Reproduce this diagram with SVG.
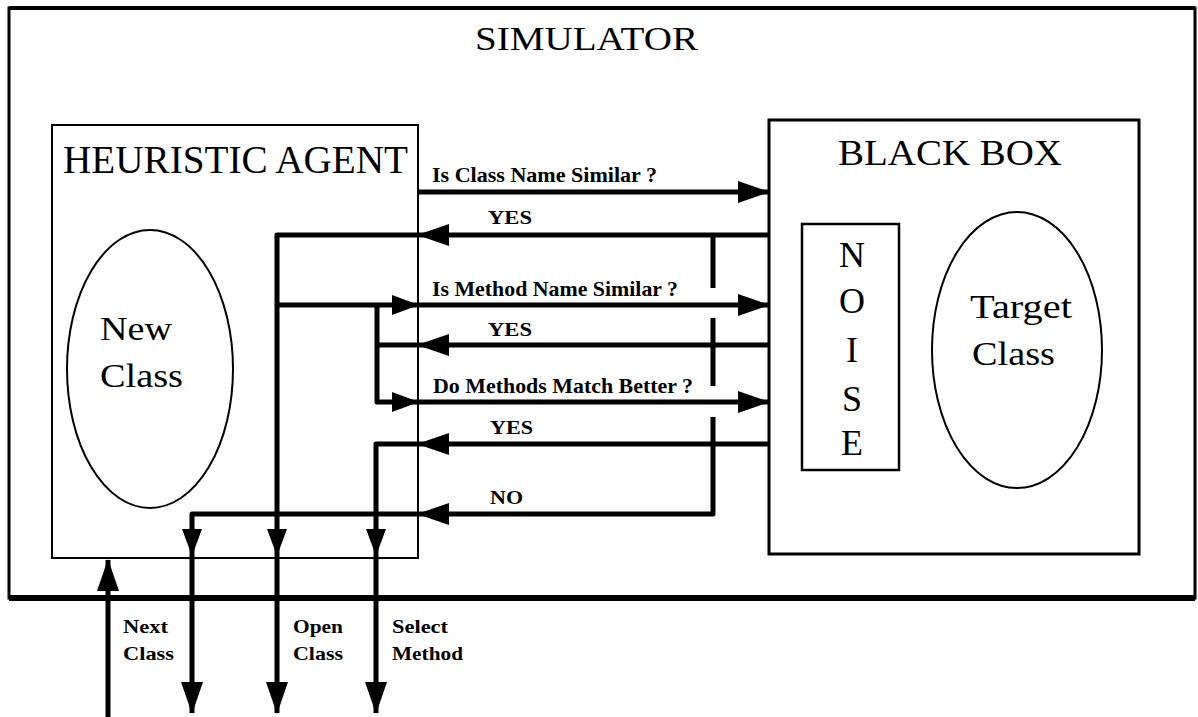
<svg xmlns="http://www.w3.org/2000/svg" width="1198" height="717" viewBox="0 0 1198 717">
<style>
.box{fill:none;stroke:#000}
.big{font-family:"Liberation Serif","Times New Roman",serif;fill:#000}
.lbl{font-family:"Liberation Serif","Times New Roman",serif;font-weight:bold;fill:#000}
.ln{fill:none;stroke:#000;stroke-width:5;stroke-linejoin:round}
</style>
<defs>
<marker id="ah" markerUnits="userSpaceOnUse" markerWidth="32" markerHeight="22" refX="31" refY="11" orient="auto"><path d="M0,0 L32,11 L0,22 Z" fill="#000"/></marker>
<marker id="as" markerUnits="userSpaceOnUse" markerWidth="27" markerHeight="20" refX="26" refY="10" orient="auto"><path d="M0,0 L27,10 L0,20 Z" fill="#000"/></marker>
</defs>
<rect width="1198" height="717" fill="#fff"/>

<g id="simulator">
<rect class="box" x="9" y="8" width="1186" height="590" stroke-width="3"/>
<line x1="9" y1="8" x2="1195" y2="8" stroke="#000" stroke-width="4"/>
<line x1="9" y1="598" x2="1195" y2="598" stroke="#000" stroke-width="6"/>
<text class="big" x="475" y="50" font-size="34" textLength="223" lengthAdjust="spacingAndGlyphs">SIMULATOR</text>
</g>

<g id="heuristic-agent">
<rect class="box" x="52" y="125" width="366" height="433" stroke-width="2"/>
<text class="big" x="63" y="173" font-size="39" textLength="345" lengthAdjust="spacingAndGlyphs">HEURISTIC AGENT</text>
</g>

<g id="new-class">
<ellipse class="box" cx="150" cy="369" rx="83" ry="139" stroke-width="2"/>
<text class="big" x="100" y="340" font-size="34" textLength="72" lengthAdjust="spacingAndGlyphs">New</text>
<text class="big" x="100" y="387" font-size="34" textLength="83" lengthAdjust="spacingAndGlyphs">Class</text>
</g>

<g id="black-box">
<rect class="box" x="769" y="120" width="370" height="434" stroke-width="3"/>
<text class="big" x="838" y="165" font-size="35" textLength="224" lengthAdjust="spacingAndGlyphs">BLACK BOX</text>
</g>

<g id="noise">
<rect class="box" x="802" y="224" width="97" height="246" stroke-width="2.5"/>
<g class="big" font-size="36" text-anchor="middle">
<text x="852" y="267">N</text>
<text x="852" y="313">O</text>
<text x="852" y="362">I</text>
<text x="852" y="411">S</text>
<text x="852" y="455">E</text>
</g>
</g>

<g id="target-class">
<ellipse class="box" cx="1017" cy="350" rx="85" ry="138" stroke-width="2"/>
<text class="big" x="970" y="318" font-size="34" textLength="102" lengthAdjust="spacingAndGlyphs">Target</text>
<text class="big" x="972" y="365" font-size="34" textLength="83" lengthAdjust="spacingAndGlyphs">Class</text>
</g>

<g id="connectors">
<path class="ln" d="M418,192 H769" marker-end="url(#ah)"/>
<path class="ln" d="M769,235 H418" marker-end="url(#ah)"/>
<path class="ln" d="M418,235 H277 V555" marker-end="url(#as)"/>
<path class="ln" d="M277,555 V713" marker-end="url(#ah)"/>
<path class="ln" d="M277,305 H418" marker-end="url(#as)"/>
<path class="ln" d="M418,305 H769" marker-end="url(#ah)"/>
<path class="ln" d="M769,345 H418" marker-end="url(#ah)"/>
<path class="ln" d="M418,345 H377"/>
<path class="ln" d="M377,305 V402 H418" marker-end="url(#as)"/>
<path class="ln" d="M418,402 H769" marker-end="url(#ah)"/>
<path class="ln" d="M769,444 H418" marker-end="url(#ah)"/>
<path class="ln" d="M418,444 H376 V555" marker-end="url(#as)"/>
<path class="ln" d="M376,555 V713" marker-end="url(#ah)"/>
<path class="ln" d="M713,235 V288"/>
<path class="ln" d="M713,318 V386"/>
<path class="ln" d="M713,417 V514 H418" marker-end="url(#ah)"/>
<path class="ln" d="M418,514 H192 V555" marker-end="url(#as)"/>
<path class="ln" d="M192,555 V713" marker-end="url(#ah)"/>
<path class="ln" d="M108,717 V560" marker-end="url(#ah)"/>
</g>

<g id="labels">
<text class="lbl" x="432" y="182" font-size="21" textLength="225" lengthAdjust="spacingAndGlyphs">Is Class Name Similar ?</text>
<text class="lbl" x="488" y="224" font-size="19" textLength="44" lengthAdjust="spacingAndGlyphs">YES</text>
<text class="lbl" x="432" y="296" font-size="21" textLength="246" lengthAdjust="spacingAndGlyphs">Is Method Name Similar ?</text>
<text class="lbl" x="488" y="336" font-size="19" textLength="44" lengthAdjust="spacingAndGlyphs">YES</text>
<text class="lbl" x="433" y="393" font-size="21" textLength="260" lengthAdjust="spacingAndGlyphs">Do Methods Match Better ?</text>
<text class="lbl" x="490" y="434" font-size="19" textLength="43" lengthAdjust="spacingAndGlyphs">YES</text>
<text class="lbl" x="490" y="504" font-size="19" textLength="33" lengthAdjust="spacingAndGlyphs">NO</text>
<text class="lbl" x="123" y="633" font-size="19" textLength="45" lengthAdjust="spacingAndGlyphs">Next</text>
<text class="lbl" x="123" y="660" font-size="19" textLength="51" lengthAdjust="spacingAndGlyphs">Class</text>
<text class="lbl" x="293" y="633" font-size="19" textLength="50" lengthAdjust="spacingAndGlyphs">Open</text>
<text class="lbl" x="293" y="660" font-size="19" textLength="50" lengthAdjust="spacingAndGlyphs">Class</text>
<text class="lbl" x="392" y="633" font-size="19" textLength="56" lengthAdjust="spacingAndGlyphs">Select</text>
<text class="lbl" x="392" y="660" font-size="19" textLength="71" lengthAdjust="spacingAndGlyphs">Method</text>
</g>
</svg>
